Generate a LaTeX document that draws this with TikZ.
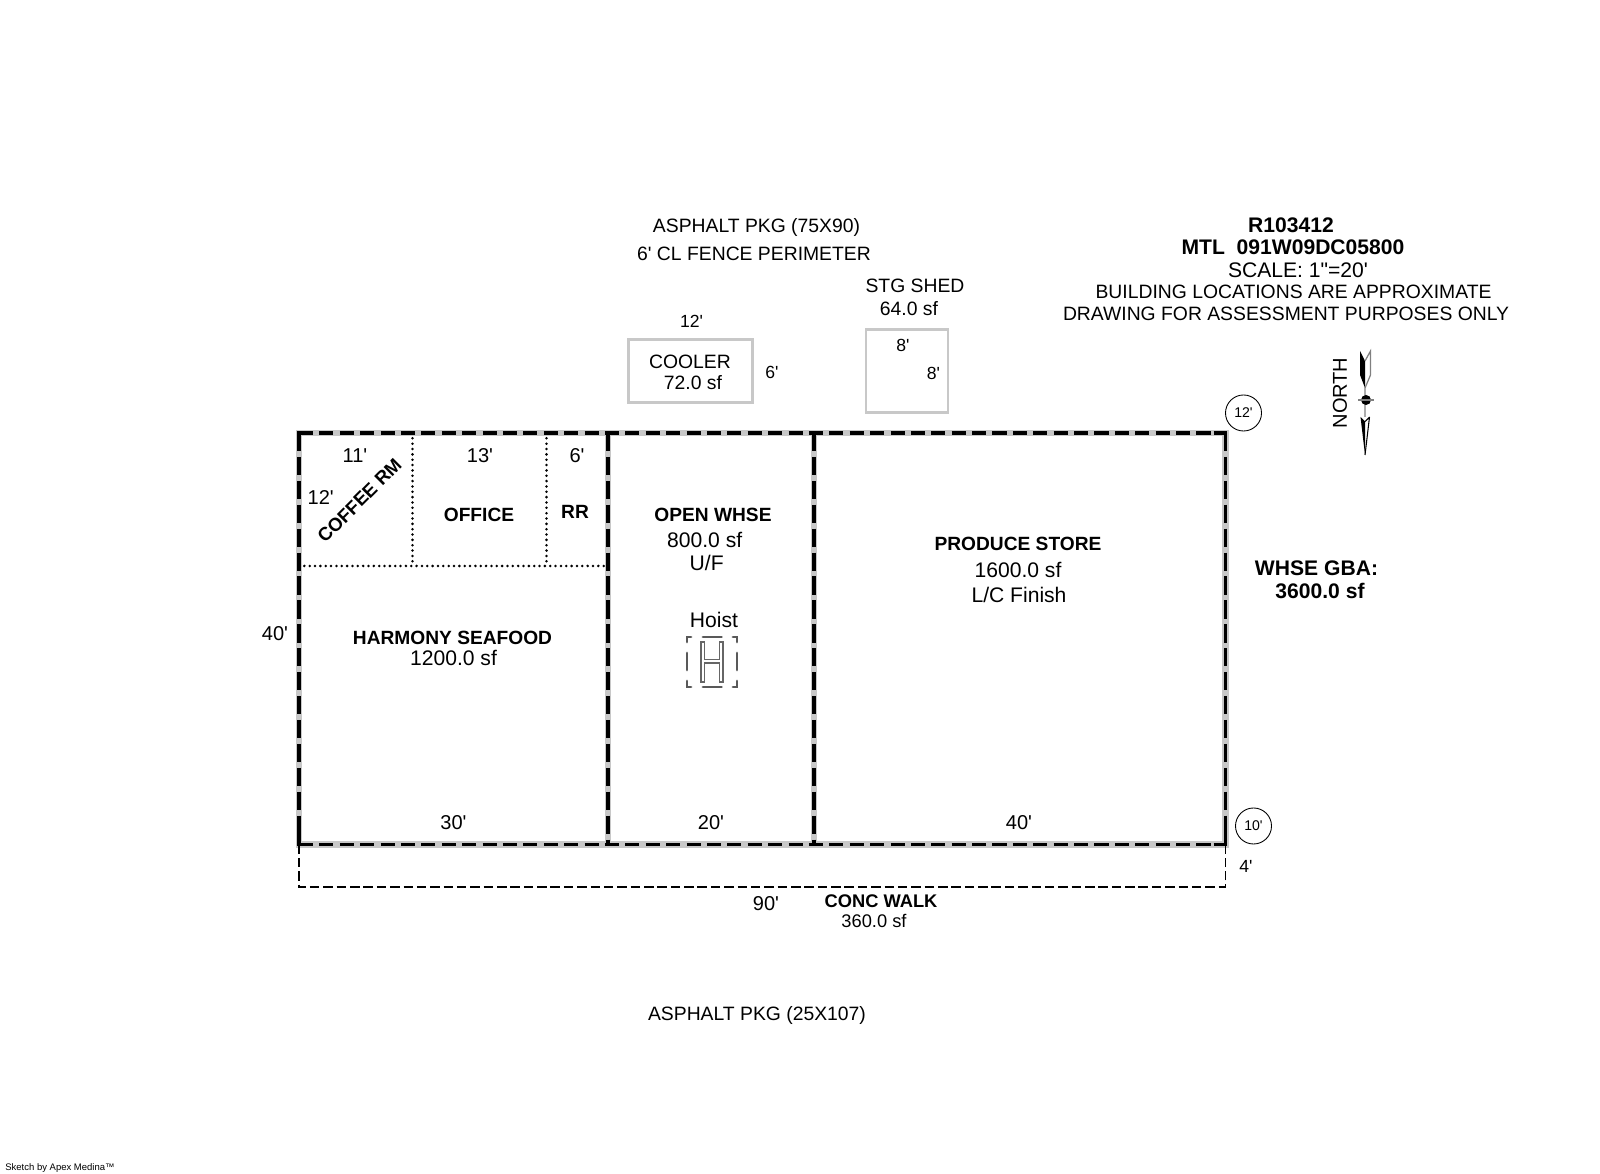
\documentclass[tikz,border=0pt]{standalone}
\usepackage{fontspec}
\setmainfont{Liberation Sans}
\usetikzlibrary{positioning}
\definecolor{wallgray}{RGB}{200,200,200}
\newcommand{\ft}{\textquotesingle}
\tikzset{
  wallback/.style={wallgray,line width=1.9pt},
  wallh/.style={line width=1.05pt,dash pattern=on 4pt off 1.8pt},
  wallv/.style={line width=1.05pt,dash pattern=on 5.2pt off 1.6pt},
  wallcorner/.style={line width=1.05pt},
  thinwall/.style={line width=0.55pt,dash pattern=on 2.7pt off 1.1pt},
  partition/.style={line width=0.8pt,line cap=round,dash pattern=on 0pt off 1.52pt},
  boxgray/.style={draw=wallgray,line width=0.8pt,inner sep=0pt},
  hoistline/.style={gray!80!black,line width=0.5pt},
  hoistdash/.style={gray!70!black,line width=0.8pt,line cap=round},
  lbl/.style={font=\fontsize{6}{6}\selectfont,inner sep=0pt,align=center},
  lblsmall/.style={lbl,font=\fontsize{5.5}{5.5}\selectfont},
  lblbold/.style={lbl,font=\fontsize{5.45}{5.45}\selectfont\bfseries},
  lblhead/.style={lbl,font=\fontsize{6}{6}\selectfont\bfseries},
  dim/.style={lbl,font=\fontsize{5.7}{5.7}\selectfont},
  dimsmall/.style={lbl,font=\fontsize{5}{5}\selectfont},
  callout/.style={draw,circle,line width=0.25pt,minimum size=0.36cm,inner sep=0pt,font=\fontsize{4}{4}\selectfont}
}
\begin{document}
\begin{tikzpicture}[x=0.01cm,y=-0.01cm]
\useasboundingbox (0,0) rectangle (1600,1174);
% building corners
\coordinate (nw) at (299,433);
\coordinate (n1) at (608,433);
\coordinate (n2) at (814,433);
\coordinate (ne) at (1225.5,433);
\coordinate (sw) at (299,844.5);
\coordinate (s1) at (608,844.5);
\coordinate (s2) at (814,844.5);
\coordinate (se) at (1225.5,844.5);
\coordinate (walksw) at (299,887);
\coordinate (walkse) at (1225.5,887);
\coordinate (pw) at (299,566);
\coordinate (pe) at (604,566);
\coordinate (p1n) at (412.5,433);
\coordinate (p1s) at (412.5,566);
\coordinate (p2n) at (546.5,433);
\coordinate (p2s) at (546.5,566);
% walls
\draw[wallback] (nw) rectangle (se);
\draw[wallback] (n1) -- (s1);
\draw[wallback] (n2) -- (s2);
\draw[wallh] (nw) -- (ne);
\draw[wallh] (sw) -- (se);
\draw[wallv] (ne) -- (se);
\draw[wallv] (nw) -- (sw);
\draw[wallv] (n1) -- (s1);
\draw[wallv] (n2) -- (s2);
\draw[wallcorner] ([xshift=0.12cm]nw) -- (nw) -- ([yshift=-0.12cm]nw);
\draw[wallcorner] ([xshift=-0.12cm]ne) -- (ne) -- ([yshift=-0.12cm]ne);
\draw[wallcorner] ([xshift=0.12cm]sw) -- (sw) -- ([yshift=0.12cm]sw);
\draw[wallcorner] ([xshift=-0.12cm]se) -- (se) -- ([yshift=0.12cm]se);
% walk
\draw[thinwall] (sw) -- (walksw) -- (walkse) -- (se);
% partitions
\draw[partition] (pw) -- (pe);
\draw[partition] (p1n) -- (p1s);
\draw[partition] (p2n) -- (p2s);
% cooler and shed
\node[boxgray,minimum width=1.246cm,minimum height=0.624cm] (cooler) at (690.5,371) {};
\node[boxgray,minimum width=0.82cm,minimum height=0.826cm] (shedbox) at (907,371) {};
% hoist
\draw[hoistline] (701,642) -- (704.5,642) -- (704.5,659.5) -- (719.5,659.5) -- (719.5,642) -- (723,642)
  -- (723,682) -- (719.5,682) -- (719.5,663) -- (704.5,663) -- (704.5,682) -- (701,682) -- cycle;
\foreach \a/\b/\c/\d in {703/637/721.5/637,703/687/721.5/687,687/653/687/670,737/653/737/670}
  \draw[hoistdash] (\a,\b) -- (\c,\d);
\draw[hoistdash] (687,642) -- (687,637) -- (691,637);
\draw[hoistdash] (737,642) -- (737,637) -- (733,637);
\draw[hoistdash] (687,681) -- (687,687) -- (691,687);
\draw[hoistdash] (737,681) -- (737,687) -- (733,687);
% north arrow
\fill (1360,351) -- (1360,375) -- (1365,388) -- (1365,361) -- cycle;
\draw[gray,line width=0.35pt] (1365,361) -- (1370.5,351) -- (1370.5,375) -- (1365,388) -- (1365,417);
\fill (1360.5,417) -- (1365,421.5) -- (1365,455) -- cycle;
\draw[line width=0.3pt] (1369.5,417) -- (1365,421.5) (1369.5,417) -- (1365,455);
\fill (1366,400) circle (5);
\draw[gray,line width=0.5pt] (1358,400) -- (1374,400);
\node[lbl,font=\fontsize{5.7}{5.7}\selectfont,rotate=90] (north) at (1340,393) {NORTH};
% text
\node[lblsmall] (asphaltn) at (756.5,228) {ASPHALT PKG (75X90)};
\node[lblsmall] (fence) at (754,254) {6\ft{} CL FENCE PERIMETER};
\node[lblhead] (rnum) at (1291,225) {R103412};
\node[lblhead] (mtl) at (1293,247) {MTL\ \ 091W09DC05800};
\node[lbl] (scale) at (1298,270) {SCALE: 1\textquotedbl=20\ft};
\node[lblsmall] (approx) at (1293.5,291.5) {BUILDING LOCATIONS ARE APPROXIMATE};
\node[lblsmall] (only) at (1286,313.5) {DRAWING FOR ASSESSMENT PURPOSES ONLY};
\node[lblsmall] (stg) at (915,286) {STG SHED};
\node[lblsmall] (stgarea) at (909,308.5) {64.0 sf};
\node[dimsmall] (d12c) at (691.5,321) {12\ft};
\node[lblsmall] (cool) at (690,361.5) {COOLER};
\node[lblsmall] (coolarea) at (693,383) {72.0 sf};
\node[dimsmall] (d6c) at (772,372) {6\ft};
\node[dimsmall] (d8a) at (903,345) {8\ft};
\node[dimsmall] (d8b) at (933.5,373) {8\ft};
\node[callout] (c12) at (1243.5,413) {12\ft};
\node[callout] (c10) at (1253.5,826) {10\ft};
\node[dim] (d11) at (355,455.5) {11\ft};
\node[dim] (d13) at (480,455.5) {13\ft};
\node[dim] (d6) at (577,455.5) {6\ft};
\node[dim] (d12) at (320.7,498) {12\ft};
\node[lblbold,font=\fontsize{5.3}{5.3}\selectfont\bfseries,rotate=45] (coffee) at (359.5,500.5) {COFFEE RM};
\node[lblbold] (office) at (479,515) {OFFICE};
\node[lblbold] (rr) at (575,512) {RR};
\node[lblbold] (openw) at (713,515) {OPEN WHSE};
\node[lbl] (openarea) at (704.7,540) {800.0 sf};
\node[lbl] (uf) at (706.7,563) {U/F};
\node[lbl] (hoist) at (714,619.5) {Hoist};
\node[lblbold] (produce) at (1018,544) {PRODUCE STORE};
\node[lbl] (prodarea) at (1018,570) {1600.0 sf};
\node[lbl] (lc) at (1019,595) {L/C Finish};
\node[lblbold] (harmony) at (452.5,638) {HARMONY SEAFOOD};
\node[lbl] (harmarea) at (453.5,658) {1200.0 sf};
\node[lblhead] (gba) at (1316.5,568) {WHSE GBA:};
\node[lblhead] (gbaarea) at (1320,591) {3600.0 sf};
\node[dim] (d40) at (275,634) {40\ft};
\node[dim] (d30) at (453.5,823) {30\ft};
\node[dim] (d20) at (711,823) {20\ft};
\node[dim] (d40b) at (1019,823) {40\ft};
\node[dimsmall] (d4) at (1246,866.5) {4\ft};
\node[dim] (d90) at (766,904) {90\ft};
\node[lblbold,font=\fontsize{5.2}{5.2}\selectfont\bfseries] (walk) at (881,901.5) {CONC WALK};
\node[lbl,font=\fontsize{5.2}{5.2}\selectfont] (walkarea) at (874,920.5) {360.0 sf};
\node[lblsmall] (asphalts) at (757,1015.5) {ASPHALT PKG (25X107)};
\node[lbl,font=\fontsize{2.7}{3}\selectfont] (apex) at (60,1168) {Sketch by Apex Medina™};
\end{tikzpicture}
\end{document}
